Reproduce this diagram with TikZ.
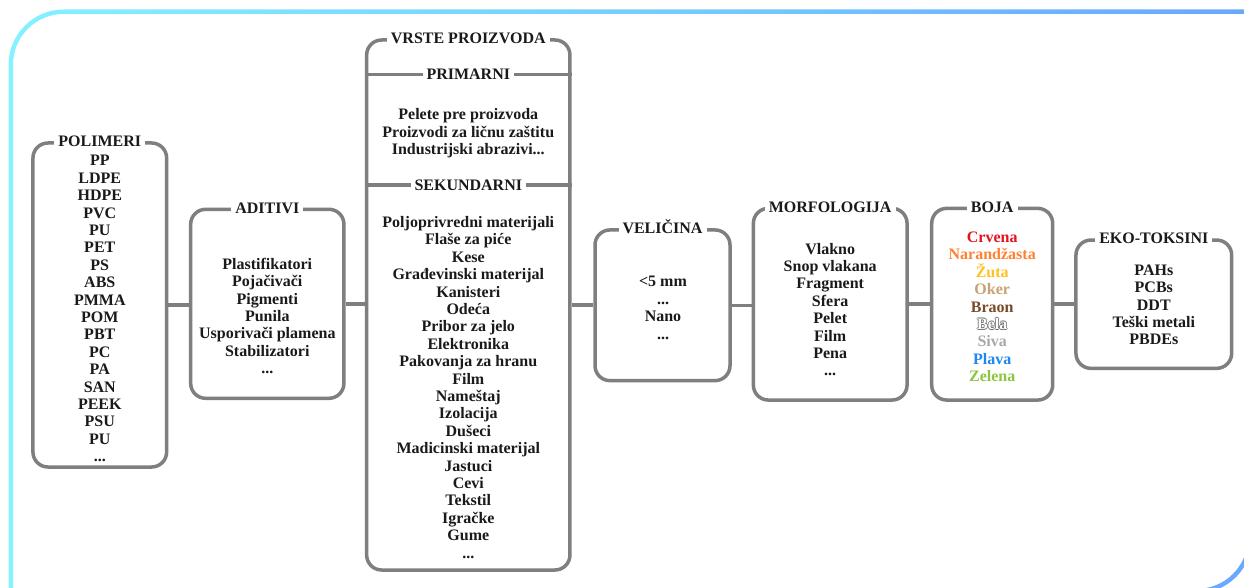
\documentclass[tikz,border=0pt]{standalone}
\usepackage{fontspec}
\setmainfont{Liberation Serif}
\usetikzlibrary{calc}
\definecolor{edge}{HTML}{7F7F7F}
\definecolor{ink}{HTML}{1A1A1A}
\definecolor{frameA}{HTML}{84F2FF}
\definecolor{frameB}{HTML}{68A8FF}
\definecolor{crvena}{HTML}{E3141E}
\definecolor{narandzasta}{HTML}{FF8233}
\definecolor{zuta}{HTML}{FFC222}
\definecolor{oker}{HTML}{C9A172}
\definecolor{braon}{HTML}{7A4A28}
\definecolor{belarub}{HTML}{6E6E6E}
\definecolor{siva}{HTML}{A8A8A8}
\definecolor{plava}{HTML}{1E88F0}
\definecolor{zelena}{HTML}{8CC63E}
\newcommand\framepath[5]{(#1,#4) -- (#1,#2+#5) .. controls (#1,#2+0.448*#5) and (#1+0.448*#5,#2) .. (#1+#5,#2) -- (#3,#2) -- (#3,#4-#5) .. controls (#3,#4-0.448*#5) and (#3-0.448*#5,#4) .. (#3-#5,#4) -- cycle}
\newcommand\obrub[1]{\leavevmode
  \rlap{\kern-0.7pt\textcolor{belarub}{#1}}%
  \rlap{\kern0.7pt\textcolor{belarub}{#1}}%
  \rlap{\raisebox{0.7pt}{\textcolor{belarub}{#1}}}%
  \rlap{\raisebox{-0.7pt}{\textcolor{belarub}{#1}}}%
  \textcolor{white}{#1}}
\tikzset{
    panelbox/.style={draw=edge, line width=3.5pt, rounded corners=15pt, inner sep=0pt},
    titlebox/.style={fill=white, text=ink, font=\bfseries\fontsize{16}{17.4}\selectfont,
        inner xsep=4pt, inner ysep=1pt, text height=11pt, text depth=0pt},
    itemlist/.style={text=ink, font=\bfseries\fontsize{16}{17.4}\selectfont,
        align=center, inner sep=0pt, anchor=north},
    linkline/.style={draw=edge, line width=3.5pt}
}

\begin{document}
\begin{tikzpicture}[x=1pt, y=-1pt]
\clip (0,0) rectangle (1244,588);
\fill[white] (0,0) rectangle (1244,588);
\shade[even odd rule, left color=frameA, right color=frameB] \framepath{8.6}{9.5}{1252.2}{593.2}{55.2} \framepath{13}{13.9}{1247.8}{588.8}{50.8};
\node[panelbox, minimum width=133.7pt, minimum height=324pt] (polimeri) at (99.8,305) {};
\node[panelbox, minimum width=153.3pt, minimum height=189pt] (aditivi) at (267.3,303.8) {};
\node[panelbox, minimum width=203.3pt, minimum height=530pt] (vrste) at (468.3,305) {};
\node[panelbox, minimum width=135pt, minimum height=150.7pt] (velicina) at (662.5,305.3) {};
\node[panelbox, minimum width=153.7pt, minimum height=191.7pt] (morfologija) at (830.2,304.2) {};
\node[panelbox, minimum width=121pt, minimum height=191.7pt] (boja) at (992.2,304.2) {};
\node[panelbox, minimum width=155.7pt, minimum height=128.3pt] (ekotoksini) at (1153.8,304.2) {};
\draw[linkline] (polimeri.east) -- (polimeri.east -| aditivi.west);
\draw[linkline] (aditivi.east) -- (aditivi.east -| vrste.west);
\draw[linkline] (vrste.east) -- (vrste.east -| velicina.west);
\draw[linkline] (velicina.east) -- (velicina.east -| morfologija.west);
\draw[linkline] (morfologija.east) -- (morfologija.east -| boja.west);
\draw[linkline] (boja.east) -- (boja.east -| ekotoksini.west);
\draw[linkline] (vrste.west |- 0,74.3) -- (vrste.east |- 0,74.3);
\draw[linkline] (vrste.west |- 0,185) -- (vrste.east |- 0,185);
\node[titlebox] (t-polimeri) at (polimeri.north) {POLIMERI};
\node[titlebox] (t-aditivi) at (aditivi.north) {ADITIVI};
\node[titlebox] (t-vrste) at (vrste.north) {VRSTE PROIZVODA};
\node[titlebox] (t-primarni) at (468.3,74.3) {PRIMARNI};
\node[titlebox] (t-sekundarni) at (468.3,185) {SEKUNDARNI};
\node[titlebox] (t-velicina) at (velicina.north) {VELIČINA};
\node[titlebox] (t-morfologija) at (morfologija.north) {MORFOLOGIJA};
\node[titlebox] (t-boja) at (boja.north) {BOJA};
\node[titlebox] (t-ekotoksini) at (ekotoksini.north) {EKO-TOKSINI};
\node[itemlist] (l-polimeri) at (99.8,155.2) {PP\\LDPE\\HDPE\\PVC\\PU\\PET\\PS\\ABS\\PMMA\\POM\\PBT\\PC\\PA\\SAN\\PEEK\\PSU\\PU\\...};
\node[itemlist] (l-aditivi) at (267.3,257.8) {Plastifikatori\\Pojačivači\\Pigmenti\\Punila\\Usporivači plamena\\Stabilizatori\\...};
\node[itemlist] (l-primarni) at (468.3,108.5) {Pelete pre proizvoda\\Proizvodi za ličnu zaštitu\\Industrijski abrazivi...};
\node[itemlist] (l-sekundarni) at (468.3,216.2) {Poljoprivredni materijali\\Flaše za piće\\Kese\\Građevinski materijal\\Kanisteri\\Odeća\\Pribor za jelo\\Elektronika\\Pakovanja za hranu\\Film\\Nameštaj\\Izolacija\\Dušeci\\Madicinski materijal\\Jastuci\\Cevi\\Tekstil\\Igračke\\Gume\\...};
\node[itemlist] (l-velicina) at (663,276.2) {<5 mm\\...\\Nano\\...};
\node[itemlist] (l-morfologija) at (830.2,242.8) {Vlakno\\Snop vlakana\\Fragment\\Sfera\\Pelet\\Film\\Pena\\...};
\node[itemlist] (l-boja) at (992.2,231.8) {\textcolor{crvena}{Crvena}\\\textcolor{narandzasta}{Narandžasta}\\\textcolor{zuta}{Žuta}\\\textcolor{oker}{Oker}\\\textcolor{braon}{Braon}\\\obrub{Bela}\\\textcolor{siva}{Siva}\\\textcolor{plava}{Plava}\\\textcolor{zelena}{Zelena}};
\node[itemlist] (l-ekotoksini) at (1153.8,264.5) {PAHs\\PCBs\\DDT\\Teški metali\\PBDEs};
\end{tikzpicture}
\end{document}
